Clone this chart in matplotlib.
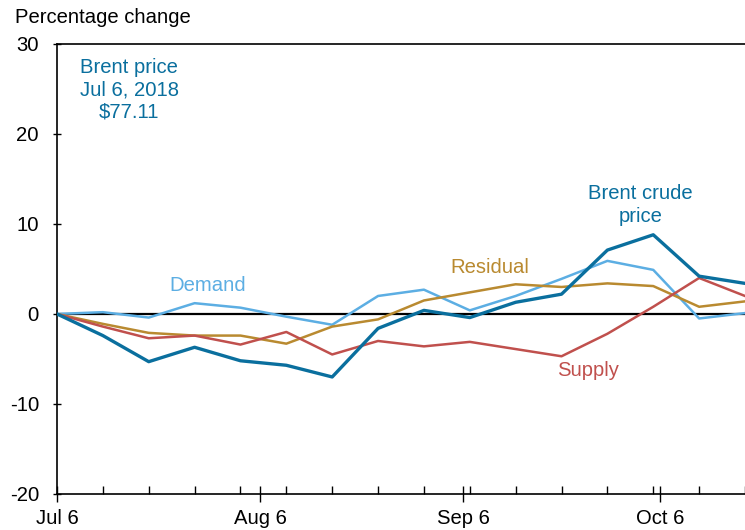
import numpy as np
import pandas as pd
import matplotlib
matplotlib.use("Agg")
import matplotlib.pyplot as plt
import matplotlib.dates as mdates

plt.rcParams["font.family"] = ["Liberation Sans", "DejaVu Sans"]

# weekly observations, percentage change since Jul 6, 2018
dates = pd.date_range("2018-07-06", periods=16, freq="7D")
brent = [0, -2.4, -5.3, -3.7, -5.2, -5.7, -7.0, -1.6, 0.4, -0.4, 1.3, 2.2, 7.1, 8.8, 4.2, 3.4]
demand = [0, 0.2, -0.4, 1.2, 0.7, -0.3, -1.2, 2.0, 2.7, 0.4, 2.0, 3.9, 5.9, 4.9, -0.5, 0.1]
residual = [0, -1.1, -2.1, -2.4, -2.4, -3.3, -1.4, -0.6, 1.5, 2.4, 3.3, 3.0, 3.4, 3.1, 0.8, 1.4]
supply = [0, -1.4, -2.7, -2.4, -3.4, -2.0, -4.5, -3.0, -3.6, -3.1, -3.9, -4.7, -2.2, 0.8, 4.0, 2.0]

C_BRENT = "#0a6f9e"
C_DEMAND = "#5caee3"
C_RESID = "#b98a30"
C_SUPPLY = "#c0504d"
FS = 14.6

fig = plt.figure(figsize=(7.45, 5.3), dpi=100)
ax = fig.add_axes([0.0765, 0.068, 0.9235, 0.849])

ax.axhline(0, color="black", lw=1.6, zorder=1)
ax.plot(dates, demand, color=C_DEMAND, lw=1.8, zorder=2)
ax.plot(dates, residual, color=C_RESID, lw=1.8, zorder=2)
ax.plot(dates, supply, color=C_SUPPLY, lw=1.8, zorder=2)
ax.plot(dates, brent, color=C_BRENT, lw=2.4, zorder=3)

ax.set_xlim(dates[0], dates[-1])
ax.set_ylim(-20, 30)
ax.set_yticks([-20, -10, 0, 10, 20, 30])
ax.yaxis.set_major_formatter(plt.FuncFormatter(lambda v, p: f"{v:.0f}"))

ax.xaxis.set_major_locator(mdates.DayLocator(bymonthday=6))
ax.xaxis.set_major_formatter(mdates.DateFormatter("%b %-d"))
ax.set_xticks(dates, minor=True)

ax.tick_params(axis="x", which="major", direction="inout", length=12, width=1,
               labelsize=FS, pad=5)
ax.tick_params(axis="x", which="minor", direction="in", length=6, width=1)
ax.tick_params(axis="y", direction="inout", length=6, width=1, labelsize=FS, pad=10)

ax.spines["right"].set_visible(False)
for s in ["left", "top", "bottom"]:
    ax.spines[s].set_linewidth(1.2)

fig.text(0.02, 0.985, "Percentage change", fontsize=FS, va="top", ha="left")

ax.text(mdates.date2num(pd.Timestamp("2018-07-17")), 24.9, "Brent price\nJul 6, 2018\n$77.11",
        color=C_BRENT, fontsize=FS, ha="center", va="center", linespacing=1.22)
ax.text(mdates.date2num(pd.Timestamp("2018-07-29")), 3.2, "Demand", color=C_DEMAND,
        fontsize=FS, ha="center", va="center")
ax.text(mdates.date2num(pd.Timestamp("2018-09-10")), 5.2, "Residual", color=C_RESID,
        fontsize=FS, ha="center", va="center")
ax.text(mdates.date2num(pd.Timestamp("2018-09-25")), -6.3, "Supply", color=C_SUPPLY,
        fontsize=FS, ha="center", va="center")
ax.text(mdates.date2num(pd.Timestamp("2018-10-03")), 12.1, "Brent crude\nprice",
        color=C_BRENT, fontsize=FS, ha="center", va="center", linespacing=1.22)

fig.savefig("out.png", dpi=100)
